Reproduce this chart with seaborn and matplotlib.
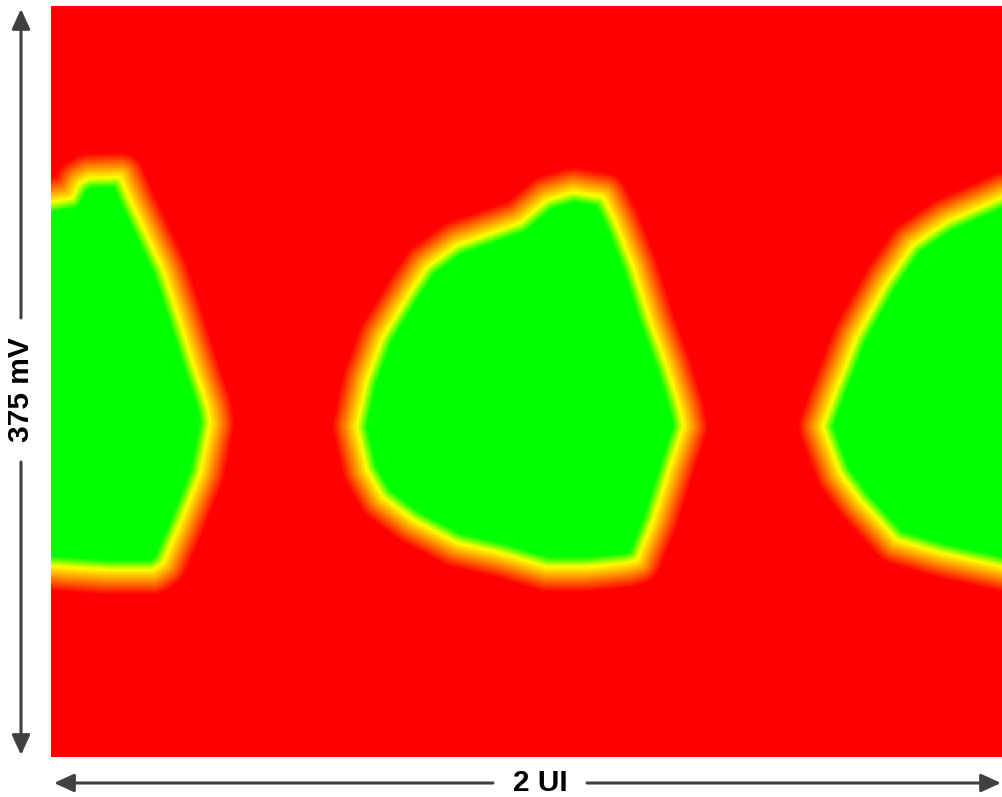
import numpy as np
import matplotlib.pyplot as plt
import seaborn as sns
from matplotlib.path import Path
from matplotlib.colors import LinearSegmentedColormap
from matplotlib.patches import FancyArrowPatch

# Eye openings: time in UI (0..2), amplitude in mV (-187.5..187.5)
left_eye_ui = [-0.13, 0.0, 0.044, 0.060, 0.080, 0.145, 0.166, 0.235, 0.265, 0.296,
               0.328, 0.334, 0.313, 0.271, 0.235, 0.214, 0.118, 0.0, -0.13]
left_eye_mv = [89.6, 89.6, 91.6, 99.0, 101.6, 102.1, 90.6, 55.7, 34.2, 10.7,
               -12.7, -20.7, -45.7, -70.7, -90.6, -94.1, -94.1, -92.2, -92.2]

mid_eye_ui = [0.643, 0.664, 0.697, 0.754, 0.790, 0.853, 0.985, 1.042, 1.097, 1.160,
              1.185, 1.223, 1.258, 1.294, 1.321, 1.328, 1.300, 1.265, 1.231, 1.210,
              1.126, 1.042, 0.943, 0.853, 0.761, 0.697, 0.664]
mid_eye_mv = [-22.7, 0.8, 22.2, 44.2, 57.2, 68.2, 79.2, 90.6, 94.6, 92.1,
              80.0, 57.2, 30.7, 7.3, -14.2, -22.7, -42.7, -69.1, -89.1, -90.6,
              -92.6, -92.6, -85.6, -80.6, -69.1, -57.7, -44.2]

right_eye_ui = [1.622, 1.658, 1.693, 1.756, 1.811, 1.882, 2.0, 2.08, 2.08, 2.0,
                1.868, 1.777, 1.700, 1.658]
right_eye_mv = [-22.7, 0.8, 22.2, 49.2, 68.2, 79.7, 92.1, 92.1, -92.6, -92.6,
                -85.6, -79.1, -59.2, -45.7]

eyes = [(left_eye_ui, left_eye_mv), (mid_eye_ui, mid_eye_mv), (right_eye_ui, right_eye_mv)]

# grid of the eye density map
ncol, nrow = 476, 376
ui = (np.arange(ncol) + 0.5) / ncol * 2.0
mv = 187.5 - (np.arange(nrow) + 0.5) / nrow * 375.0
U, V = np.meshgrid(ui, mv)
px_ui = 952 / 2.0
px_mv = 751 / 375.0
grid = np.column_stack([U.ravel() * px_ui, V.ravel() * px_mv])


def signed_dist(xs, ys):
    pts = np.column_stack([np.array(xs) * px_ui, np.array(ys) * px_mv])
    inside = Path(pts).contains_points(grid)
    d = np.full(len(grid), np.inf)
    for a, b in zip(pts, np.roll(pts, -1, axis=0)):
        ab = b - a
        t = np.clip(((grid - a) @ ab) / (ab @ ab), 0, 1)
        diff = grid - a - t[:, None] * ab
        d = np.minimum(d, np.hypot(diff[:, 0], diff[:, 1]))
    return np.where(inside, d, -d).reshape(U.shape)


d = np.max([signed_dist(x, y) for x, y in eyes], axis=0)
# glow: yellow on the contour, fading to green inside and through orange to red outside
Z = np.clip(np.where(d > 0, 0.5 + d / 20, 0.5 + d / 50), 0, 1)

cmap = LinearSegmentedColormap.from_list('eye', ['#ff0000', '#ffff00', '#00ff00'])

sns.set_style('white')
fig = plt.figure(figsize=(10.03, 7.97), dpi=100)
ax = fig.add_axes([51 / 1003, 40 / 797, 952 / 1003, 751 / 797])
sns.heatmap(Z, ax=ax, cmap=cmap, vmin=0, vmax=1, cbar=False,
            xticklabels=False, yticklabels=False)

# overlay in pixel units for the dimension arrows
ov = fig.add_axes([0, 0, 1, 1])
ov.set_xlim(0, 1003)
ov.set_ylim(797, 0)
ov.axis('off')


def arrow(x0, y0, x1, y1):
    ov.add_patch(FancyArrowPatch((x0, y0), (x1, y1),
                                 arrowstyle='-|>,head_length=1.2,head_width=0.55',
                                 mutation_scale=10, lw=2.2, color='#404040',
                                 shrinkA=0, shrinkB=0))


arrow(21, 318, 21, 9)
arrow(21, 462, 21, 755)
arrow(493, 783, 54, 783)
arrow(587, 783, 1001, 783)

ov.text(21, 390, '375 mV', rotation=90, ha='center', va='center', fontsize=21.5,
        fontweight='bold', family='Liberation Sans', color='black')
ov.text(540, 783, '2 UI', ha='center', va='center', fontsize=21.5,
        fontweight='bold', family='Liberation Sans', color='black')

fig.savefig('out.png', dpi=100)
